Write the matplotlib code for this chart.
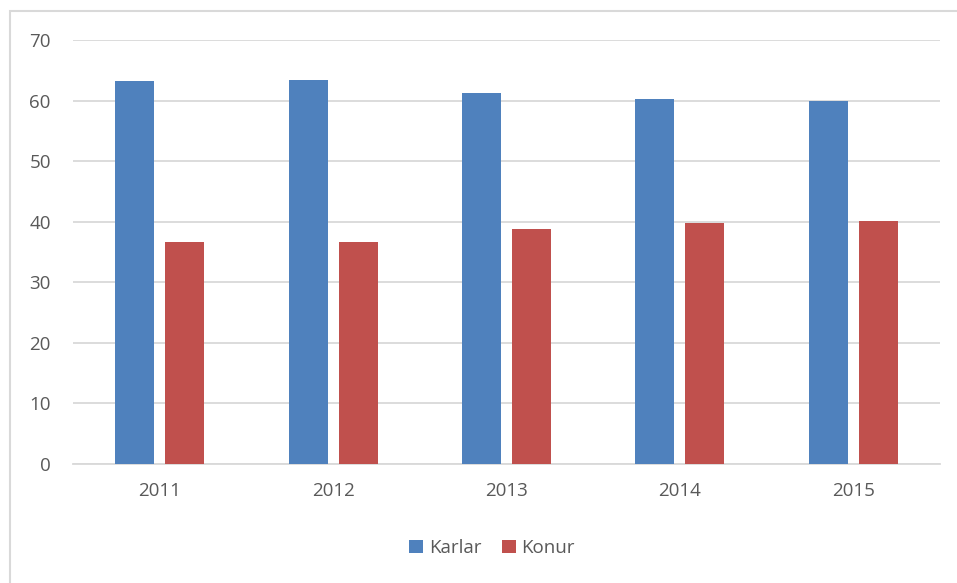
import numpy as np
import matplotlib.pyplot as plt
from matplotlib.patches import Rectangle

years = ['2011', '2012', '2013', '2014', '2015']
karlar = [63.3, 63.4, 61.2, 60.2, 59.9]
konur = [36.7, 36.6, 38.8, 39.8, 40.1]

blue = '#4F81BD'
red = '#C0504D'
grid_c = '#D9D9D9'
text_c = '#595959'

plt.rcParams['font.family'] = ['Open Sans', 'DejaVu Sans']

fig = plt.figure(figsize=(9.57, 5.83), dpi=100)
W, H = 957, 583
ax = fig.add_axes([73 / W, 119 / H, 867 / W, 424 / H])

x = np.arange(len(years))
w = 0.225
ax.bar(x - 0.144, karlar, w, color=blue, label='Karlar', zorder=3)
ax.bar(x + 0.144, konur, w, color=red, label='Konur', zorder=3)

ax.set_xlim(-0.5, len(years) - 0.5)
ax.set_ylim(0, 70)
ax.set_yticks(range(0, 71, 10))
ax.set_xticks(x)
ax.set_xticklabels(years)
ax.grid(axis='y', color=grid_c, linewidth=1.3, zorder=0)
for s in ['top', 'right', 'left']:
    ax.spines[s].set_visible(False)
ax.spines['bottom'].set_color(grid_c)
ax.spines['bottom'].set_linewidth(1.3)
ax.tick_params(axis='both', length=0, colors=text_c, labelsize=13.5)
ax.tick_params(axis='y', pad=16)
ax.tick_params(axis='x', pad=13)

fig.legend(loc='center', bbox_to_anchor=(492 / W, 1 - 548 / H), ncol=2,
           frameon=False, fontsize=13.5, handlelength=0.75, handleheight=0.75,
           handletextpad=0.3, columnspacing=1.1, labelcolor=text_c)

fig.patches.append(Rectangle((10 / W, -0.1), 1.2, 1 - 11 / H + 0.1,
                             transform=fig.transFigure, fill=False,
                             edgecolor=grid_c, linewidth=1.5))

fig.savefig('out.png', dpi=100)
